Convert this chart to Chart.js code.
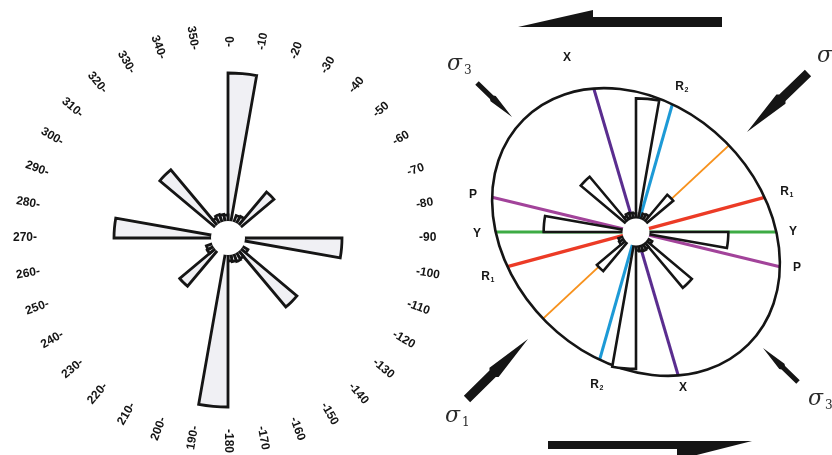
<!DOCTYPE html>
<html>
<head>
<meta charset="utf-8">
<script src="https://cdn.jsdelivr.net/npm/chart.js@4.4.1/dist/chart.umd.min.js"></script>
<style>
  html, body { margin: 0; padding: 0; background: #fff; }
  #wrap { position: relative; width: 832px; height: 455px; overflow: hidden; background: #fff; }
  canvas { position: absolute; top: 0; }
  #rose { left: 0; }
  #strain { left: 416px; }
</style>
</head>
<body>
<div id="wrap">
  <canvas id="rose" width="456" height="455"></canvas>
  <canvas id="strain" width="416" height="455"></canvas>
</div>
<script>
// Azimuth bins of 10°, clockwise from north; each tick names the bin's start
const directionTicks = ['0','10','20','30','40','50','60','70','80','90','100','110',
  '120','130','140','150','160','170','180','190','200','210','220','230',
  '240','250','260','270','280','290','300','310','320','330','340','350'];

// Fracture frequency per bin
const fractureCounts = [16.5, 0, 2.4, 2.5, 6.0, 0, 0, 0, 0, 11.4, 0, 0,
  2.3, 9.0, 2.4, 2.5, 2.4, 2.3, 16.9, 0, 0, 0, 6.3, 2.4,
  2.3, 0, 0, 11.4, 0, 0, 0, 8.9, 2.3, 2.5, 2.4, 2.3];

// Riedel shear set drawn in the strain ellipse (azimuth of each trace)
const structureNames    = ['X', 'R2', 'T', 'R1', 'Y', 'P'];
const structureAzimuths = [343.6, 15.9, 47.0, 74.9, 90.0, 103.6];

const DEG = Math.PI / 180;
const INK = '#151515';

// ---------- left: rose diagram ----------
const roseLabels = {
  id: 'roseLabels',
  afterDatasetsDraw(chart) {
    const s = chart.scales.r, ctx = chart.ctx;
    ctx.save();
    ctx.fillStyle = '#fff';
    ctx.beginPath();
    ctx.arc(s.xCenter, s.yCenter, 17, 0, 2 * Math.PI);
    ctx.fill();
    ctx.restore();
  },
  afterDraw(chart) {
    const s = chart.scales.r, ctx = chart.ctx;
    const R0 = 191;
    ctx.save();
    ctx.font = 'bold 12px "Liberation Sans", Arial, sans-serif';
    ctx.fillStyle = '#141414';
    ctx.textBaseline = 'middle';
    directionTicks.forEach((t, i) => {
      const a = s.getIndexAngle(i);          // radians, clockwise from north
      const az = Math.round(a / DEG) % 360;
      ctx.save();
      ctx.translate(s.xCenter, s.yCenter);
      if (az >= 10 && az <= 180) {
        ctx.rotate(a - Math.PI / 2);
        ctx.textAlign = 'left';
        ctx.fillText('-' + t, R0, 0);
      } else {
        ctx.rotate(a + Math.PI / 2);
        ctx.textAlign = 'right';
        ctx.fillText(t + '-', -R0, 0);
      }
      ctx.restore();
    });
    ctx.restore();
  }
};

new Chart(document.getElementById('rose'), {
  type: 'polarArea',
  data: {
    labels: directionTicks,
    datasets: [{
      data: fractureCounts,
      backgroundColor: '#f0f0f4',
      borderColor: INK,
      borderWidth: 2.8,
      borderJoinStyle: 'miter'
    }]
  },
  options: {
    responsive: false,
    devicePixelRatio: 1,
    animation: false,
    layout: { padding: { top: 21 } },
    plugins: { legend: { display: false }, tooltip: { enabled: false } },
    scales: {
      r: {
        min: 0, max: 21.7,
        grid: { display: false },
        angleLines: { display: false },
        ticks: { display: false },
        pointLabels: { display: false }
      }
    }
  },
  plugins: [roseLabels]
});

// ---------- right: strain ellipse ----------
const ellipseA = 159, ellipseB = 127, ellipseTilt = 45;   // px, px, degrees
const structureStyle = {
  X:  { color: '#5a2d8f', width: 3 },
  R2: { color: '#1d9ad6', width: 3 },
  T:  { color: '#f7921e', width: 2 },
  R1: { color: '#ec3b26', width: 3.4 },
  Y:  { color: '#3dab44', width: 3 },
  P:  { color: '#a2439a', width: 3 }
};
// label text, subscript, offset from the ellipse centre
const structureLabelSpots = [
  ['X', '', -69, -174], ['X', '', 47, 156],
  ['R', '2', 46, -145], ['R', '2', -39, 153],
  ['R', '1', 151, -40], ['R', '1', -148, 45],
  ['P', '', -163, -37], ['P', '', 161, 36],
  ['Y', '', -159, 2],   ['Y', '', 157, 0]
];
// principal stress arrows: tail, tip, shaft width, head width
const stressArrows = [
  [-159, -149, -124, -115, 5, 7.5],
  [172, -159, 111, -100, 9, 13],
  [-169, 167, -108, 107, 9, 13],
  [162, 150, 127, 116, 5, 7.5]
];
const stressLabels = [
  ['3', -189, -162], ['1', 181, -170], ['1', -191, 190], ['3', 172, 173]
];
// half-headed shear-sense arrows
const shearArrows = [
  [[-118, -205], [-43, -222], [-43, -215], [86, -215], [86, -205]],
  [[-88, 209], [116, 209], [41, 228], [41, 217], [-88, 217]]
];

function ellipseRadius(azDeg) {
  const dx = Math.sin(azDeg * DEG), dy = -Math.cos(azDeg * DEG);
  const t = ellipseTilt * DEG;
  const u = dx * Math.cos(t) + dy * Math.sin(t);
  const v = -dx * Math.sin(t) + dy * Math.cos(t);
  return 1 / Math.sqrt((u * u) / (ellipseA * ellipseA) + (v * v) / (ellipseB * ellipseB));
}

function drawStressArrow(ctx, cx, cy, a) {
  const [x0, y0, x1, y1, w, hw] = a;
  const L = Math.hypot(x1 - x0, y1 - y0);
  const ux = (x1 - x0) / L, uy = (y1 - y0) / L;
  const nx = -uy, ny = ux;
  const f = 0.42 * L;
  const p = (d, s) => [cx + x0 + ux * d + nx * s, cy + y0 + uy * d + ny * s];
  const pts = [p(0, w / 2), p(f, w / 2), p(f + 2, hw / 2), [cx + x1, cy + y1],
               p(f + 2, -hw / 2), p(f, -w / 2), p(0, -w / 2)];
  ctx.beginPath();
  pts.forEach((q, i) => i ? ctx.lineTo(q[0], q[1]) : ctx.moveTo(q[0], q[1]));
  ctx.closePath();
  ctx.fill();
}

const strainPlugin = {
  id: 'strainPlugin',
  beforeDatasetsDraw(chart) {
    const s = chart.scales.r, ctx = chart.ctx;
    const cx = s.xCenter, cy = s.yCenter;
    ctx.save();
    ctx.lineCap = 'butt';
    structureNames.forEach((name, i) => {
      const az = structureAzimuths[i];
      const st = structureStyle[name];
      const r1 = ellipseRadius(az), r2 = ellipseRadius(az + 180);
      const dx = Math.sin(az * DEG), dy = -Math.cos(az * DEG);
      ctx.strokeStyle = st.color;
      ctx.lineWidth = st.width;
      ctx.beginPath();
      ctx.moveTo(cx - dx * r2, cy - dy * r2);
      ctx.lineTo(cx + dx * r1, cy + dy * r1);
      ctx.stroke();
    });
    ctx.strokeStyle = INK;
    ctx.lineWidth = 2.6;
    ctx.beginPath();
    ctx.ellipse(cx, cy, ellipseA, ellipseB, ellipseTilt * DEG, 0, 2 * Math.PI);
    ctx.stroke();
    ctx.restore();
  },
  afterDatasetsDraw(chart) {
    const s = chart.scales.r, ctx = chart.ctx;
    ctx.save();
    ctx.fillStyle = '#fff';
    ctx.beginPath();
    ctx.arc(s.xCenter, s.yCenter, 13.5, 0, 2 * Math.PI);
    ctx.fill();
    ctx.restore();
  },
  afterDraw(chart) {
    const s = chart.scales.r, ctx = chart.ctx;
    const cx = s.xCenter, cy = s.yCenter;
    ctx.save();
    ctx.fillStyle = INK;
    // shear-sense arrows
    shearArrows.forEach(poly => {
      ctx.beginPath();
      poly.forEach((q, i) => i ? ctx.lineTo(cx + q[0], cy + q[1]) : ctx.moveTo(cx + q[0], cy + q[1]));
      ctx.closePath();
      ctx.fill();
    });
    // principal stresses
    stressArrows.forEach(a => drawStressArrow(ctx, cx, cy, a));
    ctx.fillStyle = '#2a2a2a';
    ctx.textBaseline = 'alphabetic';
    ctx.textAlign = 'left';
    stressLabels.forEach(([sub, x, y]) => {
      ctx.font = 'italic 22px "DejaVu Serif", "Liberation Serif", serif';
      ctx.fillText('\u03C3', cx + x, cy + y);
      ctx.font = '12px "DejaVu Serif", "Liberation Serif", serif';
      ctx.fillText(sub, cx + x + 17, cy + y + 4);
    });
    // structure letters
    ctx.fillStyle = INK;
    ctx.textBaseline = 'middle';
    structureLabelSpots.forEach(([txt, sub, x, y]) => {
      ctx.font = 'bold 12px "Liberation Sans", Arial, sans-serif';
      if (sub) {
        ctx.textAlign = 'right';
        ctx.fillText(txt, cx + x + 2, cy + y);
        ctx.font = 'bold 7px "Liberation Sans", Arial, sans-serif';
        ctx.textAlign = 'left';
        ctx.fillText(sub, cx + x + 2.5, cy + y + 3);
      } else {
        ctx.textAlign = 'center';
        ctx.fillText(txt, cx + x, cy + y);
      }
    });
    ctx.restore();
  }
};

new Chart(document.getElementById('strain'), {
  type: 'polarArea',
  data: {
    labels: directionTicks,
    datasets: [{
      data: fractureCounts,
      backgroundColor: '#ffffff',
      borderColor: INK,
      borderWidth: 2.6,
      borderJoinStyle: 'miter'
    }]
  },
  options: {
    responsive: false,
    devicePixelRatio: 1,
    animation: false,
    layout: { padding: { left: 24, top: 9 } },
    plugins: { legend: { display: false }, tooltip: { enabled: false } },
    scales: {
      r: {
        min: 0, max: 24.2,
        grid: { display: false },
        angleLines: { display: false },
        ticks: { display: false },
        pointLabels: { display: false }
      }
    }
  },
  plugins: [strainPlugin]
});
</script>
</body>
</html>
